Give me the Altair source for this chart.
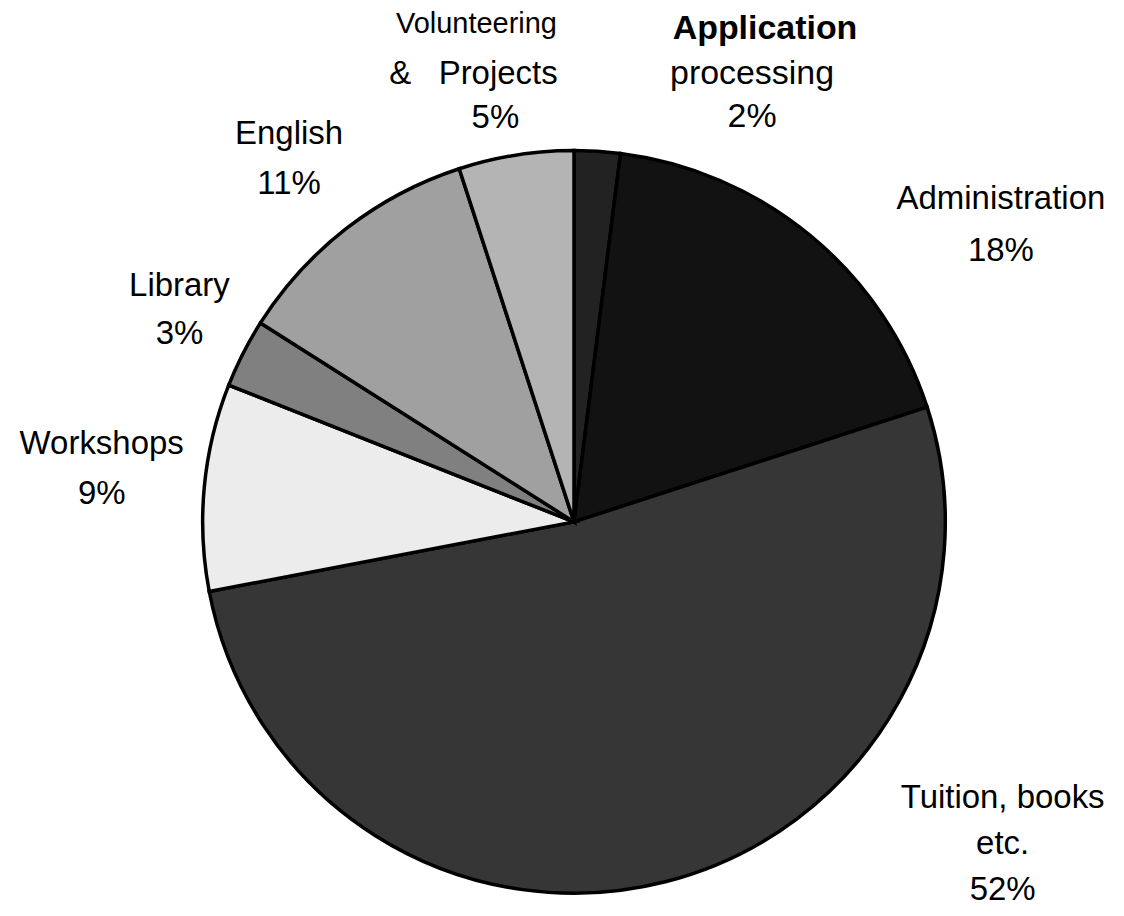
import altair as alt
import pandas as pd

categories = ["Application processing", "Administration", "Tuition, books etc.",
              "Workshops", "Library", "English", "Volunteering & Projects"]
values = [2, 18, 52, 9, 3, 11, 5]
shades = ["#222222", "#121212", "#363636", "#ececec", "#808080", "#a0a0a0", "#b4b4b4"]

df = pd.DataFrame({"category": categories, "value": values, "idx": list(range(len(values)))})

FONT = "Liberation Sans"
LABEL_R = 420
NB = "\u00a0"

# label pieces: (category, text, dx, dy, size, weight, lineHeight)
label_style = [
    ("Application processing", "Application", 165, -75, 34, "bold", 44),
    ("Application processing", "processing\n{pct}", 152, -30, 34, "normal", 44),
    ("Administration", "Administration\n{pct}", 160, 0, 33, "normal", 52),
    ("Tuition, books etc.", "Tuition, books\netc.\n{pct}", 325, -130, 33, "normal", 46),
    ("Workshops", "Workshops\n{pct}", -55, -38, 33, "normal", 50),
    ("Library", "Library\n{pct}", -21, -46, 33, "normal", 48),
    ("English", "English\n{pct}", -28, -57, 33, "normal", 50),
    ("Volunteering & Projects", "Volunteering", -32, -84, 29, "normal", 44),
    ("Volunteering & Projects", "&" + NB * 3 + "Projects", -35, -34, 33, "normal", 44),
    ("Volunteering & Projects", "{pct}", -13, 10, 33, "normal", 44),
]

base = alt.Chart(df).transform_stack(
    stack="value", groupby=[], as_=["start", "end"], sort=[alt.SortField("idx")]
).transform_calculate(mid="(datum.start + datum.end) / 2")

theta_scale = alt.Scale(domain=[0, 100], range=[0, 6.283185307179586])

pie = base.mark_arc(outerRadius=372, stroke="black", strokeWidth=3.5, strokeJoin="miter").encode(
    theta=alt.Theta("start:Q", scale=theta_scale, stack=None),
    theta2="end:Q",
    color=alt.Color("category:N", scale=alt.Scale(domain=categories, range=shades), legend=None),
)

layers = [pie]
for cat, txt, dx, dy, size, weight, lh in label_style:
    pct = f"{values[categories.index(cat)]}%"
    t = txt.replace("{pct}", pct)
    layer = base.transform_filter(alt.datum.category == cat).mark_text(
        font=FONT, fontSize=size, fontWeight=weight, color="black",
        dx=dx, dy=dy, align="center", baseline="middle", lineBreak="\n", lineHeight=lh,
    ).encode(
        theta=alt.Theta("mid:Q", scale=theta_scale, stack=None),
        radius=alt.value(LABEL_R),
        text=alt.value(t),
    )
    layers.append(layer)

chart = alt.layer(*layers).properties(
    width=1086, height=600,
    padding={"left": 24, "top": 214, "right": 0, "bottom": 84},
    autosize="none",
).configure_view(stroke=None)

chart.save("out.html", embed_options={"renderer": "svg", "actions": False})
